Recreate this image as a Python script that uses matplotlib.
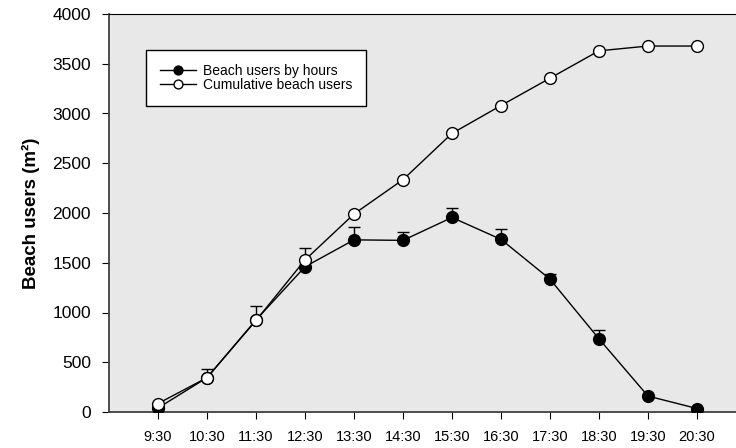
import numpy as np
import matplotlib
matplotlib.use("Agg")
import matplotlib.pyplot as plt

plt.rcParams['font.family'] = ['Liberation Sans', 'DejaVu Sans']

hours = ["9:30", "10:30", "11:30", "12:30", "13:30", "14:30",
         "15:30", "16:30", "17:30", "18:30", "19:30", "20:30"]
by_hours = [40, 345, 925, 1460, 1730, 1725, 1955, 1735, 1335, 735, 160, 35]
by_hours_err = [10, 90, 145, 190, 130, 80, 95, 105, 55, 90, 15, 10]
cumulative = [85, 345, 920, 1528, 1990, 2335, 2800, 3080, 3355, 3630, 3678, 3678]

x = np.arange(len(hours))

fig = plt.figure(figsize=(7.36, 4.48), dpi=100)
ax = fig.add_axes([109 / 736, 36 / 448, 636 / 736, 398 / 448])
ax.set_facecolor("#e8e8e8")

# only the upper half of the error bars is drawn
ax.errorbar(x, by_hours, yerr=[np.zeros(len(x)), by_hours_err], fmt="none",
            ecolor="black", elinewidth=1, capsize=4, capthick=1, zorder=2)
ax.plot(x, by_hours, "-o", color="black", mfc="black", mec="black",
        ms=8.5, lw=1, label="Beach users by hours", zorder=3)
ax.plot(x, cumulative, "-o", color="black", mfc="white", mec="black",
        ms=8.5, mew=1, lw=1, label="Cumulative beach users", zorder=4)

ax.set_xlim(-1, (745 - 158) / 49)
ax.set_ylim(0, 4000)
ax.set_yticks(np.arange(0, 4001, 500))
ax.set_xticks(x)
ax.set_xticklabels(hours, fontsize=10.5)
ax.tick_params(axis="y", direction="out", length=5, pad=8, labelsize=12.5)
ax.tick_params(axis="x", direction="out", length=5, pad=8)
ax.set_ylabel("Beach users (m²)", fontsize=13.5, fontweight="bold", labelpad=9)

for side in ["left", "bottom"]:
    ax.spines[side].set_color("#404040")
    ax.spines[side].set_linewidth(1.3)
ax.spines["top"].set_color("black")
ax.spines["right"].set_visible(False)

leg = ax.legend(loc="upper left", bbox_to_anchor=(0.058, 0.91), fontsize=10,
                frameon=True, fancybox=False, edgecolor="black",
                borderpad=1.0, labelspacing=0.0, handlelength=2.6,
                handletextpad=0.5, borderaxespad=0, markerscale=0.75)
leg.get_frame().set_linewidth(1.0)
leg.get_frame().set_facecolor("white")
leg.get_frame().set_alpha(1)

fig.savefig("out.png", dpi=100)
